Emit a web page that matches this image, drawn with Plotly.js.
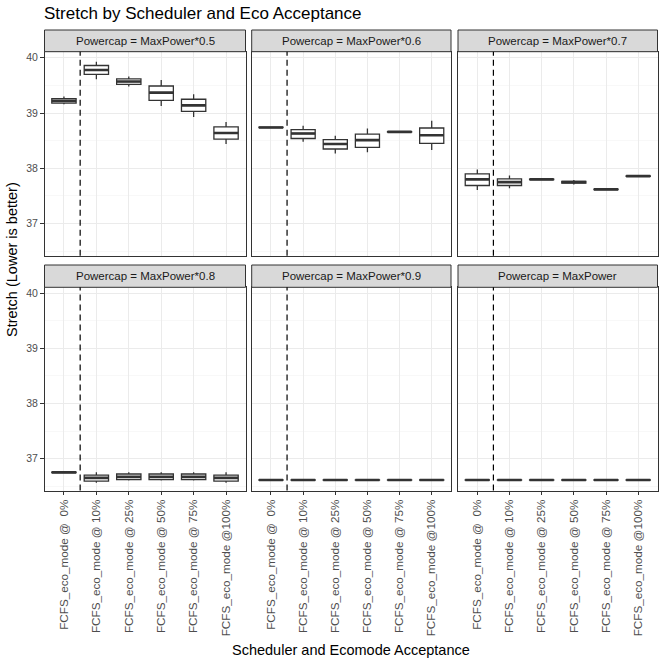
<!DOCTYPE html>
<html>
<head>
<meta charset="utf-8">
<script src="https://cdn.plot.ly/plotly-3.0.1.min.js"></script>
<style>
  body { margin: 0; background: #fff; }
  #plot { width: 664px; height: 664px; }
</style>
</head>
<body>
<div id="plot"></div>
<script>
// scheduler categories (x axis)
var cats = [
  'FCFS_eco_mode @\u00a0\u00a00%',
  'FCFS_eco_mode @ 10%',
  'FCFS_eco_mode @ 25%',
  'FCFS_eco_mode @ 50%',
  'FCFS_eco_mode @ 75%',
  'FCFS_eco_mode @100%'
];

var panelNames = [
  'Powercap = MaxPower*0.5',
  'Powercap = MaxPower*0.6',
  'Powercap = MaxPower*0.7',
  'Powercap = MaxPower*0.8',
  'Powercap = MaxPower*0.9',
  'Powercap = MaxPower'
];

// box stats, one row per facet
var lowers = [
  [39.16, 39.61, 39.48, 39.13, 38.93, 38.44],
  [38.73, 38.48, 38.27, 38.29, 38.65, 38.33],
  [37.61, 37.64, 37.79, 37.71, 37.615, 37.855],
  [36.745, 36.56, 36.60, 36.60, 36.60, 36.56],
  [36.605, 36.605, 36.605, 36.605, 36.605, 36.605],
  [36.605, 36.605, 36.605, 36.605, 36.605, 36.605]
];
var q1s = [
  [39.18, 39.70, 39.52, 39.23, 39.03, 38.53],
  [38.735, 38.54, 38.35, 38.38, 38.655, 38.45],
  [37.69, 37.69, 37.795, 37.735, 37.617, 37.857],
  [36.747, 36.59, 36.62, 36.62, 36.62, 36.59],
  [36.607, 36.607, 36.607, 36.607, 36.607, 36.607],
  [36.607, 36.607, 36.607, 36.607, 36.607, 36.607]
];
var medians = [
  [39.22, 39.78, 39.57, 39.37, 39.14, 38.64],
  [38.74, 38.63, 38.44, 38.51, 38.66, 38.60],
  [37.80, 37.75, 37.80, 37.75, 37.62, 37.86],
  [36.75, 36.65, 36.67, 36.67, 36.67, 36.65],
  [36.61, 36.61, 36.61, 36.61, 36.61, 36.61],
  [36.61, 36.61, 36.61, 36.61, 36.61, 36.61]
];
var q3s = [
  [39.26, 39.86, 39.62, 39.49, 39.25, 38.75],
  [38.745, 38.70, 38.52, 38.62, 38.665, 38.73],
  [37.90, 37.81, 37.805, 37.765, 37.623, 37.863],
  [36.753, 36.70, 36.72, 36.72, 36.72, 36.70],
  [36.613, 36.613, 36.613, 36.613, 36.613, 36.613],
  [36.613, 36.613, 36.613, 36.613, 36.613, 36.613]
];
var uppers = [
  [39.30, 39.93, 39.66, 39.60, 39.34, 38.84],
  [38.75, 38.77, 38.59, 38.72, 38.67, 38.86],
  [37.98, 37.87, 37.81, 37.79, 37.625, 37.865],
  [36.755, 36.75, 36.75, 36.75, 36.75, 36.75],
  [36.615, 36.615, 36.615, 36.615, 36.615, 36.615],
  [36.615, 36.615, 36.615, 36.615, 36.615, 36.615]
];

var W = 664;
function px(v) { return v / W; }
function py(v) { return 1 - v / W; }

// panel pixel boxes
var colX = [[44.5, 245.5], [251.7, 451], [458, 657.5]];
var rowY = [[51.7, 255.7], [287.3, 490.5]];
var stripTop = [30, 265];

var data = [];
var layout = {
  width: 664, height: 664,
  margin: {l: 0, r: 0, t: 0, b: 0},
  paper_bgcolor: '#fff', plot_bgcolor: '#fff',
  font: {family: 'Liberation Sans, Arial, sans-serif', color: '#1a1a1a'},
  showlegend: false,
  boxmode: 'overlay',
  title: {
    text: 'Stretch by Scheduler and Eco Acceptance',
    x: px(44), xanchor: 'left', xref: 'paper',
    y: py(13), yanchor: 'middle', yref: 'paper',
    font: {size: 17, color: '#000'}
  },
  shapes: [],
  annotations: []
};

for (var i = 0; i < 6; i++) {
  var r = Math.floor(i / 3), c = i % 3;
  var n = i === 0 ? '' : String(i + 1);
  data.push({
    type: 'box',
    x: cats,
    q1: q1s[i], median: medians[i], q3: q3s[i],
    lowerfence: lowers[i], upperfence: uppers[i],
    xaxis: 'x' + n, yaxis: 'y' + n,
    width: 0.75,
    whiskerwidth: 0,
    boxpoints: false,
    fillcolor: '#fff',
    line: {color: '#333', width: 1.3},
    hoverinfo: 'skip'
  });
  // thicker median bar, as ggplot draws it
  data.push({
    type: 'box',
    x: cats,
    q1: medians[i], median: medians[i], q3: medians[i],
    lowerfence: medians[i], upperfence: medians[i],
    xaxis: 'x' + n, yaxis: 'y' + n,
    width: 0.75,
    whiskerwidth: 0,
    boxpoints: false,
    fillcolor: 'rgba(0,0,0,0)',
    line: {color: '#333', width: 2.6},
    hoverinfo: 'skip'
  });

  layout['xaxis' + n] = {
    domain: [px(colX[c][0]), px(colX[c][1])],
    anchor: 'y' + n,
    type: 'category',
    categoryorder: 'array', categoryarray: cats,
    range: [-0.6, 5.6],
    showgrid: true, gridcolor: '#ebebeb', gridwidth: 1,
    showline: true, mirror: true, linecolor: '#333', linewidth: 1,
    ticks: r === 1 ? 'outside' : '', ticklen: 3.5, tickcolor: '#333',
    showticklabels: r === 1,
    tickangle: -90,
    tickfont: {size: 11.7, color: '#4d4d4d'},
    zeroline: false, fixedrange: true
  };
  layout['yaxis' + n] = {
    domain: [py(rowY[r][1]), py(rowY[r][0])],
    anchor: 'x' + n,
    range: [36.42, 40.11],
    tickvals: [37, 38, 39, 40],
    showgrid: true, gridcolor: '#ebebeb', gridwidth: 1,
    minor: {dtick: 0.5, tick0: 0, showgrid: true, gridcolor: '#f4f4f4', gridwidth: 0.6, ticks: ''},
    showline: true, mirror: true, linecolor: '#333', linewidth: 1,
    ticks: c === 0 ? 'outside' : '', ticklen: 3.5, tickcolor: '#333',
    showticklabels: c === 0,
    tickfont: {size: 10.5, color: '#4d4d4d'},
    zeroline: false, fixedrange: true
  };

  // facet strip
  layout.shapes.push({
    type: 'rect', xref: 'paper', yref: 'paper',
    x0: px(colX[c][0]), x1: px(colX[c][1]),
    y0: py(rowY[r][0]), y1: py(stripTop[r]),
    fillcolor: '#d9d9d9', line: {color: '#333', width: 1}
  });
  layout.annotations.push({
    text: panelNames[i], showarrow: false,
    xref: 'paper', yref: 'paper',
    x: px((colX[c][0] + colX[c][1]) / 2),
    y: py((stripTop[r] + rowY[r][0]) / 2),
    xanchor: 'center', yanchor: 'middle',
    font: {size: 11.5, color: '#1a1a1a'}
  });

  // dashed separator between the baseline and eco modes
  layout.shapes.push({
    type: 'line', xref: 'x' + n, yref: 'y' + n + ' domain',
    x0: 0.5, x1: 0.5, y0: 0, y1: 1,
    line: {color: '#000', width: 1.2, dash: '6px,4px'}
  });
}

layout.annotations.push({
  text: 'Stretch (Lower is better)', showarrow: false,
  xref: 'paper', yref: 'paper', x: px(12), y: py(260),
  xanchor: 'center', yanchor: 'middle', textangle: -90,
  font: {size: 14.5, color: '#000'}
});
layout.annotations.push({
  text: 'Scheduler and Ecomode Acceptance', showarrow: false,
  xref: 'paper', yref: 'paper', x: px(351), y: py(650),
  xanchor: 'center', yanchor: 'middle',
  font: {size: 14.5, color: '#000'}
});

Plotly.newPlot('plot', data, layout, {staticPlot: true, displayModeBar: false});
</script>
</body>
</html>
